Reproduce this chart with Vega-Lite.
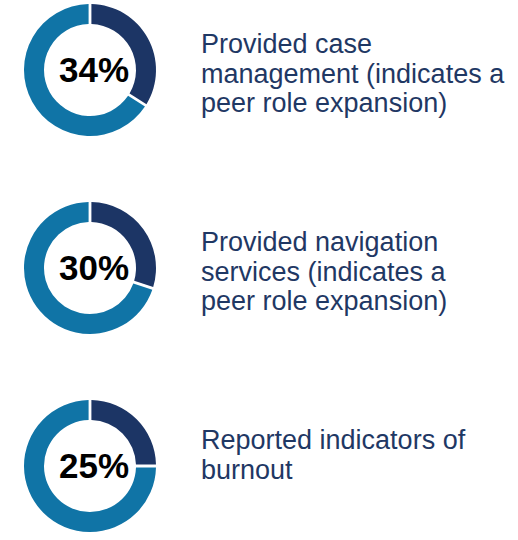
{
  "$schema": "https://vega.github.io/schema/vega-lite/v6.json",
  "width": 518,
  "height": 540,
  "autosize": "none",
  "padding": 0,
  "background": "white",
  "config": {"view": {"stroke": null}},
  "datasets": {
    "parts": [
      {"item": 1, "part": "Yes", "value": 34},
      {"item": 1, "part": "No", "value": 66},
      {"item": 2, "part": "Yes", "value": 30},
      {"item": 2, "part": "No", "value": 70},
      {"item": 3, "part": "Yes", "value": 25},
      {"item": 3, "part": "No", "value": 75}
    ],
    "labels": [
      {"item": 1, "pct": 0.34, "label": "Provided case\nmanagement (indicates a\npeer role expansion)"},
      {"item": 2, "pct": 0.30, "label": "Provided navigation\nservices (indicates a\npeer role expansion)"},
      {"item": 3, "pct": 0.25, "label": "Reported indicators of\nburnout"}
    ]
  },
  "encoding": {
    "y": {"field": "item", "type": "ordinal", "scale": {"type": "point", "range": [70, 466], "padding": 0}, "axis": null}
  },
  "layer": [
    {
      "data": {"name": "parts"},
      "transform": [
        {"stack": "value", "groupby": ["item"], "sort": [{"field": "part", "order": "descending"}], "as": ["v0", "v1"]}
      ],
      "mark": {"type": "arc", "innerRadius": 46, "outerRadius": 66, "padAngle": 0.035},
      "encoding": {
        "x": {"datum": "donut", "type": "nominal", "scale": {"type": "point", "domain": ["donut", "label"], "range": [90, 201], "padding": 0}, "axis": null},
        "theta": {"field": "v0", "type": "quantitative", "scale": {"domain": [0, 100]}},
        "theta2": {"field": "v1"},
        "color": {"field": "part", "type": "nominal", "scale": {"domain": ["Yes", "No"], "range": ["#1c3565", "#1074a6"]}, "legend": null}
      }
    },
    {
      "data": {"name": "labels"},
      "mark": {"type": "text", "font": "Liberation Sans", "fontWeight": "bold", "fontSize": 35, "align": "center", "baseline": "alphabetic", "dx": 4, "dy": 12, "color": "#000000"},
      "encoding": {
        "x": {"datum": "donut", "type": "nominal", "scale": {"type": "point", "domain": ["donut", "label"], "range": [90, 201], "padding": 0}, "axis": null},
        "text": {"field": "pct", "type": "quantitative", "format": ".0%"}
      }
    },
    {
      "data": {"name": "labels"},
      "mark": {"type": "text", "font": "Liberation Sans", "fontSize": 27, "align": "left", "baseline": "alphabetic", "dy": -17, "lineHeight": 29.5, "lineBreak": "\n", "color": "#1f3864"},
      "encoding": {
        "x": {"datum": "label", "type": "nominal", "scale": {"type": "point", "domain": ["donut", "label"], "range": [90, 201], "padding": 0}, "axis": null},
        "text": {"field": "label", "type": "nominal"}
      }
    }
  ]
}
